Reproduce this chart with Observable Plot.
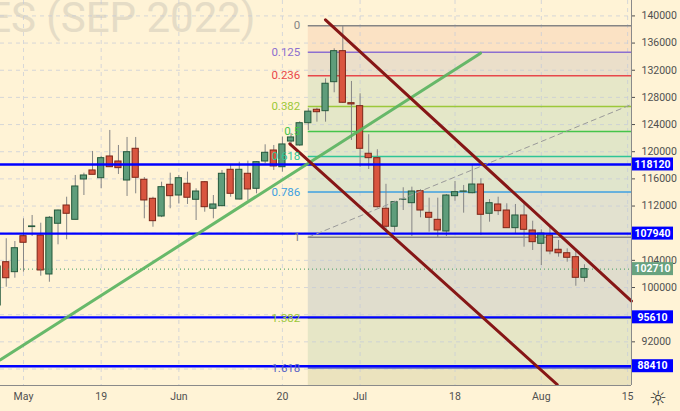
<!DOCTYPE html>
<html><head><meta charset="utf-8">
<script src="https://cdn.jsdelivr.net/npm/d3@7"></script>
<script src="https://cdn.jsdelivr.net/npm/@observablehq/plot@0.6"></script>
<style>
html,body{margin:0;padding:0;background:#fff3d6;}
#chart{width:680px;height:411px;overflow:hidden;}
</style></head><body><div id="chart"></div>
<script>
// Trading sessions (x axis is by session, weekends/holidays skipped)
const sessions = [
"2022-04-27","2022-04-28","2022-04-29",
"2022-05-04","2022-05-05","2022-05-06","2022-05-11","2022-05-12","2022-05-13",
"2022-05-16","2022-05-17","2022-05-18","2022-05-19","2022-05-20",
"2022-05-23","2022-05-24","2022-05-25","2022-05-26","2022-05-27","2022-05-30","2022-05-31",
"2022-06-01","2022-06-02","2022-06-03","2022-06-06","2022-06-07","2022-06-08","2022-06-09","2022-06-10",
"2022-06-14","2022-06-15","2022-06-16","2022-06-17","2022-06-20","2022-06-21","2022-06-22","2022-06-23","2022-06-24",
"2022-06-27","2022-06-28","2022-06-29","2022-06-30","2022-07-01",
"2022-07-04","2022-07-05","2022-07-06","2022-07-07","2022-07-08",
"2022-07-11","2022-07-12","2022-07-13","2022-07-14","2022-07-15",
"2022-07-18","2022-07-19","2022-07-20","2022-07-21","2022-07-22",
"2022-07-25","2022-07-26","2022-07-27","2022-07-28","2022-07-29",
"2022-08-01","2022-08-02","2022-08-03","2022-08-04","2022-08-05",
"2022-08-08","2022-08-09","2022-08-10","2022-08-11","2022-08-12","2022-08-15"];

const opens = [97350,103730,102260,107560,108900,107660,101920,109390,112080,109970,115910,117240,116100,119300,118560,115760,120430,115870,113070,110460,115130,113550,115280,112920,115510,111600,111980,117340,112960,116750,114540,118560,120180,117720,121500,120920,124200,126180,125970,130240,134810,127150,126710,119700,119050,111600,108950,112920,112420,114190,111000,109970,108250,113450,114100,113890,115170,110860,112230,111340,108740,110610,108400,106440,107660,105560,105050,104470,101430];
const highs = [103690,107180,106780,110120,110610,109470,110460,111400,113300,116500,116840,120040,119300,123130,120920,122100,122100,116200,113300,115510,116840,116500,116990,114540,115600,113550,117240,117970,118460,118610,118520,121020,120920,122140,122690,124400,126330,126400,130740,135160,138450,130350,128530,122500,120290,115200,112700,114690,114780,114400,113160,113160,113700,115620,115030,117970,116010,112960,113300,112330,112230,112570,109770,108500,108880,106930,105700,105450,103350];
const lows = [97060,100050,101370,102260,107510,101670,100780,106290,107030,109970,113550,116600,114540,117720,116650,113410,113800,110120,108880,110300,111600,112330,112230,109870,111090,110120,111900,113300,112900,112820,113800,118220,117240,116990,120770,120800,123130,124350,124350,128680,127100,121660,117720,117380,111700,108300,108150,111340,107510,110270,108150,107320,107510,112710,110950,113800,107660,109620,110610,108700,107910,105940,105450,103240,104820,104470,103730,100190,100780];
const closes = [103100,101370,105790,106590,109000,102510,110270,111340,110860,114880,116500,116600,119050,117720,117580,119930,116160,112820,109770,114780,113450,116100,113220,114140,111830,112230,116750,113800,117340,114440,118460,119840,117830,121070,122100,124200,125900,125820,130010,134810,127210,126960,120430,119050,111830,108950,112570,112950,114140,111340,110270,108400,113550,114040,114150,115170,110710,112420,111240,108740,110610,108500,106680,107950,105310,105050,104380,101430,102710];

const tickDates = ["2022-05-04","2022-05-19","2022-06-01","2022-06-20","2022-07-01","2022-07-18","2022-08-01","2022-08-15"];
const tickLabels = ["May","19","Jun","20","Jul","18","Aug","15"];
const yTicks = [88000,92000,96000,100000,104000,108000,112000,116000,120000,124000,128000,132000,136000,140000];
// tick labels hidden behind the price tags in the reference
const yTicksCovered = [88000,96000,108000];

// Fibonacci retracement
const fibHigh = 138550, fibLow = 107400;
const fibStartDate = "2022-06-23";
const fibRatios = [0,0.125,0.236,0.382,0.5,0.618,0.786,1,1.382,1.618];
const fibLabels = ["0","0.125","0.236","0.382","0.5","0.618","0.786","1","1.382","1.618"];
const fibColors = ["#858585","#8c6fd0","#e8474a","#9cc83a","#45c44a","#2fc596","#3d9fe0","#858585","#9cc83a","#5560c4"];
const fibBandColors = ["#fbe2c4","#ebdfca","#e6e7c8","#e4e7c8","#e1e6c8","#e0e5cc","#e2e1cf","#e0ddcd","#e6e6c6","#ebe3be"];

// Horizontal support/resistance levels and last price
const levels = [118120,107940,95610,88410];
const levelLabels = ["118120","107940","95610","88410"];
const lastPrice = 102710;

// Trend lines: [session index, price]
const greenTrend = [[0.335,89350],[55.96,134510]];
const channelUpper = [[37.99,139430],[73.45,98010]];
const channelLower = [[33.86,121170],[64.84,85710]];
const fibDiagonal = [[36,107400],[73.45,126960]];

const watermark = "ES (SEP 2022)";

const candles = opens.map((o,i)=>({i, date:sessions[i], open:o, high:highs[i], low:lows[i], close:closes[i]}));
const tickIdx = tickDates.map(d=>sessions.indexOf(d));
const fibStart = sessions.indexOf(fibStartDate);
const xDomain = [0.335, 73.45];
const yDomain = [85570, 142270];
const fibs = fibRatios.map((r,k)=>({label:fibLabels[k], color:fibColors[k], value: fibHigh - r*(fibHigh-fibLow)}));
const bands = fibs.map((f,k)=>({y1:f.value, y2: k+1<fibs.length ? fibs[k+1].value : yDomain[0], fill:fibBandColors[k]}));
const up = d => d.close >= d.open;

const chart = Plot.plot({
  width:680, height:411,
  marginLeft:0, marginRight:49, marginTop:0, marginBottom:26,
  style:{background:"#fff3d6", fontFamily:"Roboto, sans-serif", fontSize:"10.5px", color:"#505050"},
  color:{type:"identity"},
  x:{type:"linear", domain:xDomain, ticks:tickIdx, tickFormat:i=>tickLabels[tickIdx.indexOf(i)], tickSize:0, tickPadding:7, label:null},
  y:{domain:yDomain, axis:"right", ticks:yTicks, tickFormat:d=>yTicksCovered.includes(d) ? "" : String(d), tickSize:3, tickPadding:7, label:null},
  marks:[
    Plot.text([watermark], {frameAnchor:"top-left", dx:255, dy:31, textAnchor:"end", lineAnchor:"bottom", fontSize:42, fill:"#e5dcc6", text:d=>d}),
    Plot.rect(bands, {x1:fibStart, x2:xDomain[1], y1:"y1", y2:"y2", fill:"fill"}),
    Plot.ruleY(yTicks, {stroke:"#c5cbd8", strokeOpacity:0.7, strokeDasharray:"4,4"}),
    Plot.ruleX(tickIdx, {stroke:"#c5cbd8", strokeOpacity:0.7, strokeDasharray:"4,4"}),
    Plot.ruleY(fibs, {y:"value", x1:fibStart, x2:xDomain[1], stroke:"color", strokeWidth:1.6}),
    Plot.ruleX(candles, {x:"i", y1:"low", y2:"high", stroke:"#858585", strokeWidth:1}),
    Plot.rect(candles, {x1:d=>d.i-0.36, x2:d=>d.i+0.36, y1:"open", y2:"close",
      fill:d=>up(d)?"#5f9d7b":"#d9553f", stroke:d=>up(d)?"#24583b":"#7c2517", strokeWidth:1}),
    Plot.ruleY([lastPrice], {stroke:"#3f9a63", strokeDasharray:"1,3"}),
    Plot.ruleY(levels, {stroke:"#0000ff", strokeWidth:2.4}),
    Plot.line(fibDiagonal, {x:d=>d[0], y:d=>d[1], stroke:"#9a9a9a", strokeDasharray:"5,4", strokeWidth:1}),
    Plot.line(greenTrend, {x:d=>d[0], y:d=>d[1], stroke:"#58b35e", strokeWidth:3, strokeOpacity:0.9}),
    Plot.line(channelUpper, {x:d=>d[0], y:d=>d[1], stroke:"#861616", strokeWidth:3}),
    Plot.line(channelLower, {x:d=>d[0], y:d=>d[1], stroke:"#861616", strokeWidth:3, clip:true}),
    Plot.text(fibs, {x:fibStart, y:"value", text:"label", fill:"color", textAnchor:"end", dx:-8, fontSize:11.5}),
    Plot.ruleX([xDomain[1]], {stroke:"#8a8a8a"}),
    Plot.ruleY([yDomain[0]], {stroke:"#8a8a8a"})
  ]
});

// Price tags in the right margin, positioned with the chart's y scale
const ys = chart.scale("y");
const xs = chart.scale("x");
const xr = xs.apply(xDomain[1]);
const g = d3.select(chart).append("g").attr("font-family","Roboto, sans-serif").attr("font-size","10.5px").attr("font-weight","bold");
function tag(v, label, bg){
  const y = ys.apply(v);
  g.append("rect").attr("x", xr+1).attr("y", y-6.5).attr("width", 41).attr("height", 13).attr("fill", bg);
  g.append("text").attr("x", xr+21.5).attr("y", y).attr("dy","0.35em").attr("text-anchor","middle").attr("fill","#fff").text(label);
}
levels.forEach((v,k)=>tag(v, levelLabels[k], "#0000ff"));
tag(lastPrice, String(lastPrice), "#68a27f");
d3.select(chart).append("text").attr("x", xr+27).attr("y", 398).attr("dy","0.35em").attr("text-anchor","middle")
  .attr("font-family","DejaVu Sans").attr("font-size","20px").attr("fill","#333").text("☼");

document.getElementById("chart").appendChild(chart);
</script></body></html>
